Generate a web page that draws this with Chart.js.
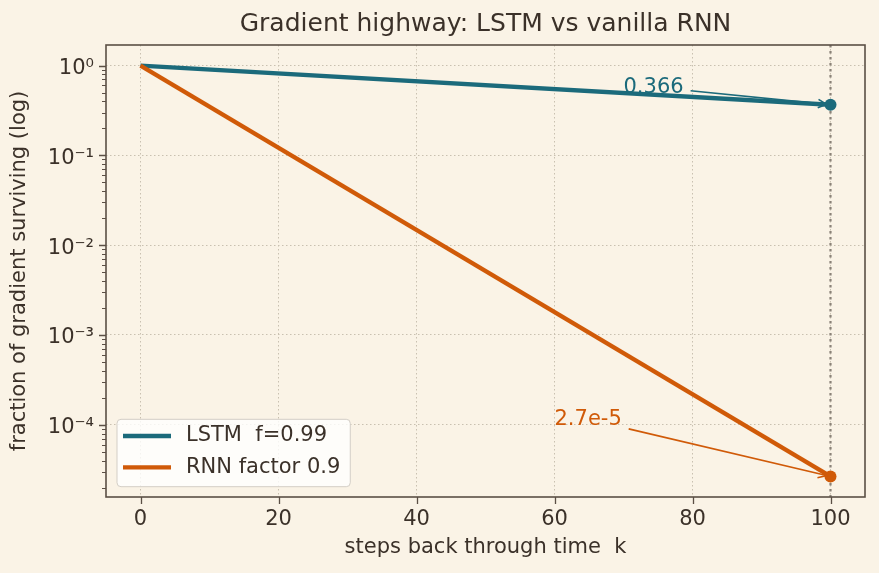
<!DOCTYPE html>
<html>
<head>
<meta charset="utf-8">
<title>Gradient highway</title>
<script src="https://cdn.jsdelivr.net/npm/chart.js@4/dist/chart.umd.min.js"></script>
<style>
  html, body { margin: 0; padding: 0; background: #faf3e6; }
  canvas { display: block; }
</style>
</head>
<body>
<canvas id="chart" width="879" height="573"></canvas>
<script>
// data
const steps = [0, 100];
const lstmSurvive = [1, 0.366];
const rnnSurvive = [1, 2.66e-5];
const xTickValues = [0, 20, 40, 60, 80, 100];
const yTickValues = [1, 0.1, 0.01, 0.001, 0.0001];
const yTickLabels = ['10⁰', '10⁻¹', '10⁻²', '10⁻³', '10⁻⁴'];
const seriesNames = ['LSTM  f=0.99', 'RNN factor 0.9'];
const noteTexts = ['0.366', '2.7e-5'];
const noteX = [70, 60];
const noteY = [0.5, 1e-4];

const BG = '#faf3e6';
const INK = '#3b3129';
const SPINE = '#5b4f45';
const GRID = '#c9c0b0';
const TEAL = '#1b6a7b';
const ORANGE = '#d05a08';
const FONT = "'DejaVu Sans', sans-serif";
const FS = 21;

const seriesValues = [lstmSurvive, rnnSurvive];
const seriesColors = [TEAL, ORANGE];

function toPoints(xs, ys) {
    return xs.map((x, i) => ({ x: x, y: ys[i] }));
}

// log range with 5% margin like matplotlib
const allValues = lstmSurvive.concat(rnnSurvive);
const logLo = Math.log10(Math.min(...allValues));
const logHi = Math.log10(Math.max(...allValues));
const logPad = (logHi - logLo) * 0.05;

Chart.defaults.font.family = FONT;
Chart.defaults.font.size = FS;
Chart.defaults.color = INK;

// background
const bgPlugin = {
    id: 'bg',
    beforeDraw(chart) {
        const ctx = chart.ctx;
        ctx.save();
        ctx.fillStyle = BG;
        ctx.fillRect(0, 0, chart.width, chart.height);
        ctx.restore();
    }
};

// dotted line at the last step
const vlinePlugin = {
    id: 'vline',
    beforeDatasetsDraw(chart) {
        const ctx = chart.ctx, a = chart.chartArea;
        const px = chart.scales.x.getPixelForValue(steps[steps.length - 1]);
        ctx.save();
        ctx.strokeStyle = '#8a8278';
        ctx.lineWidth = 2.2;
        ctx.setLineDash([2.5, 3.5]);
        ctx.beginPath();
        ctx.moveTo(px, a.top);
        ctx.lineTo(px, a.bottom);
        ctx.stroke();
        ctx.restore();
    }
};

function drawArrow(ctx, x0, y0, x1, y1, color) {
    const ang = Math.atan2(y1 - y0, x1 - x0);
    const len = 9.4, spread = 0.46;
    ctx.strokeStyle = color;
    ctx.lineWidth = 1.6;
    ctx.beginPath();
    ctx.moveTo(x0, y0);
    ctx.lineTo(x1, y1);
    ctx.moveTo(x1 - len * Math.cos(ang - spread), y1 - len * Math.sin(ang - spread));
    ctx.lineTo(x1, y1);
    ctx.lineTo(x1 - len * Math.cos(ang + spread), y1 - len * Math.sin(ang + spread));
    ctx.stroke();
}

// value labels with arrows to the end points
const notesPlugin = {
    id: 'notes',
    afterDatasetsDraw(chart) {
        const ctx = chart.ctx;
        const xs = chart.scales.x, ys = chart.scales.y;
        ctx.save();
        ctx.font = FS + 'px ' + FONT;
        noteTexts.forEach((text, i) => {
            const vals = seriesValues[i];
            const px = xs.getPixelForValue(steps[steps.length - 1]);
            const py = ys.getPixelForValue(vals[vals.length - 1]);
            const tx = xs.getPixelForValue(noteX[i]);
            const ty = ys.getPixelForValue(noteY[i]);
            const w = ctx.measureText(text).width;

            ctx.fillStyle = seriesColors[i];
            ctx.textAlign = 'left';
            ctx.textBaseline = 'alphabetic';
            ctx.fillText(text, tx, ty);

            // arrow leaves the padded text box
            const top = ty - 0.76 * FS - 3.5, bottom = ty + 0.24 * FS + 3.5;
            const left = tx - 3.5, right = tx + w + 3.5;
            const cx = (left + right) / 2, cy = (top + bottom) / 2;
            let dx = px - cx, dy = py - cy;
            const d = Math.hypot(dx, dy);
            dx /= d; dy /= d;
            const tX = dx > 0 ? (right - cx) / dx : (left - cx) / dx;
            const tY = dy > 0 ? (bottom - cy) / dy : (top - cy) / dy;
            const t = Math.min(tX, tY) + 3.5;
            drawArrow(ctx, cx + dx * t, cy + dy * t, px - dx * 4, py - dy * 4, seriesColors[i]);
        });
        ctx.restore();
    }
};

// frame, tick marks and legend
const framePlugin = {
    id: 'frame',
    afterDraw(chart) {
        const ctx = chart.ctx, a = chart.chartArea;
        const xs = chart.scales.x, ys = chart.scales.y;
        ctx.save();
        ctx.strokeStyle = SPINE;
        ctx.lineWidth = 1.3;
        ctx.beginPath();
        xTickValues.forEach(v => {
            const px = Math.round(xs.getPixelForValue(v)) + 0.5;
            ctx.moveTo(px, a.bottom);
            ctx.lineTo(px, a.bottom + 7);
        });
        yTickValues.forEach(v => {
            const py = Math.round(ys.getPixelForValue(v)) + 0.5;
            ctx.moveTo(a.left, py);
            ctx.lineTo(a.left - 7, py);
        });
        ctx.stroke();

        ctx.lineWidth = 1;
        ctx.beginPath();
        for (let dec = Math.floor(Math.log10(ys.min)); dec <= Math.ceil(Math.log10(ys.max)); dec++) {
            for (let m = 2; m <= 9; m++) {
                const v = m * Math.pow(10, dec);
                if (v < ys.min || v > ys.max) continue;
                const py = Math.round(ys.getPixelForValue(v)) + 0.5;
                ctx.moveTo(a.left, py);
                ctx.lineTo(a.left - 4, py);
            }
        }
        ctx.stroke();

        ctx.lineWidth = 1.6;
        ctx.strokeRect(a.left, a.top, a.right - a.left, a.bottom - a.top);

        // legend box, lower left
        ctx.font = FS + 'px ' + FONT;
        const textW = Math.max(...seriesNames.map(s => ctx.measureText(s).width));
        const bx = a.left + 11, bw = 6 + 48 + 15 + textW + 10;
        const bh = 67.4, by = a.bottom - 10.3 - bh;
        ctx.fillStyle = 'rgba(255,255,255,0.8)';
        ctx.strokeStyle = '#d3cec6';
        ctx.lineWidth = 1;
        ctx.beginPath();
        ctx.roundRect(bx, by, bw, bh, 4);
        ctx.fill();
        ctx.stroke();
        seriesNames.forEach((name, i) => {
            const ry = by + 16.7 + i * 31.3;
            ctx.strokeStyle = seriesColors[i];
            ctx.lineWidth = 4.3;
            ctx.beginPath();
            ctx.moveTo(bx + 6, ry);
            ctx.lineTo(bx + 54, ry);
            ctx.stroke();
            ctx.fillStyle = INK;
            ctx.textAlign = 'left';
            ctx.textBaseline = 'middle';
            ctx.fillText(name, bx + 69, ry);
        });
        ctx.restore();
    }
};

function makeDataset(i) {
    return {
        label: seriesNames[i],
        data: toPoints(steps, seriesValues[i]),
        borderColor: seriesColors[i],
        backgroundColor: seriesColors[i],
        borderWidth: 4.3,
        pointRadius: steps.map((s, k) => k === steps.length - 1 ? 6 : 0),
        pointBorderWidth: 0,
        pointBackgroundColor: seriesColors[i],
        fill: false,
        tension: 0,
        order: i === 0 ? 1 : 0
    };
}

const ctx = document.getElementById('chart').getContext('2d');
const chart = new Chart(ctx, {
    type: 'line',
    data: { datasets: [makeDataset(0), makeDataset(1)] },
    options: {
        responsive: false,
        animation: false,
        devicePixelRatio: 1,
        layout: { padding: { left: 0, right: 14, top: 0, bottom: 0 } },
        plugins: {
            legend: { display: false },
            tooltip: { enabled: false },
            title: {
                display: true,
                text: 'Gradient highway: LSTM vs vanilla RNN',
                fullSize: false,
                color: INK,
                font: { size: 25, weight: 'normal', lineHeight: 1.2 },
                padding: { top: 9.7, bottom: 5.3 }
            }
        },
        scales: {
            x: {
                type: 'linear',
                min: -5,
                max: 105,
                afterBuildTicks: s => { s.ticks = xTickValues.map(v => ({ value: v })); },
                afterFit: s => { s.height = 76; },
                ticks: { padding: 10.4, maxRotation: 0, color: INK },
                grid: { color: GRID, lineWidth: 1, drawTicks: false },
                border: { display: false, dash: [1.5, 2.5] },
                title: {
                    display: true,
                    text: 'steps back through time  k',
                    color: INK,
                    padding: { top: 0, bottom: 12.7 }
                }
            },
            y: {
                type: 'logarithmic',
                min: Math.pow(10, logLo - logPad),
                max: Math.pow(10, logHi + logPad),
                afterBuildTicks: s => { s.ticks = yTickValues.map(v => ({ value: v, major: true })); },
                afterFit: s => { s.width = 106; },
                ticks: {
                    padding: 12,
                    labelOffset: 3,
                    color: INK,
                    callback: value => yTickLabels[yTickValues.indexOf(value)]
                },
                grid: { color: GRID, lineWidth: 1, drawTicks: false },
                border: { display: false, dash: [1.5, 2.5] },
                title: {
                    display: true,
                    text: 'fraction of gradient surviving (log)',
                    color: INK,
                    padding: { top: 6.8, bottom: 0 }
                }
            }
        }
    },
    plugins: [bgPlugin, vlinePlugin, notesPlugin, framePlugin]
});
</script>
</body>
</html>
